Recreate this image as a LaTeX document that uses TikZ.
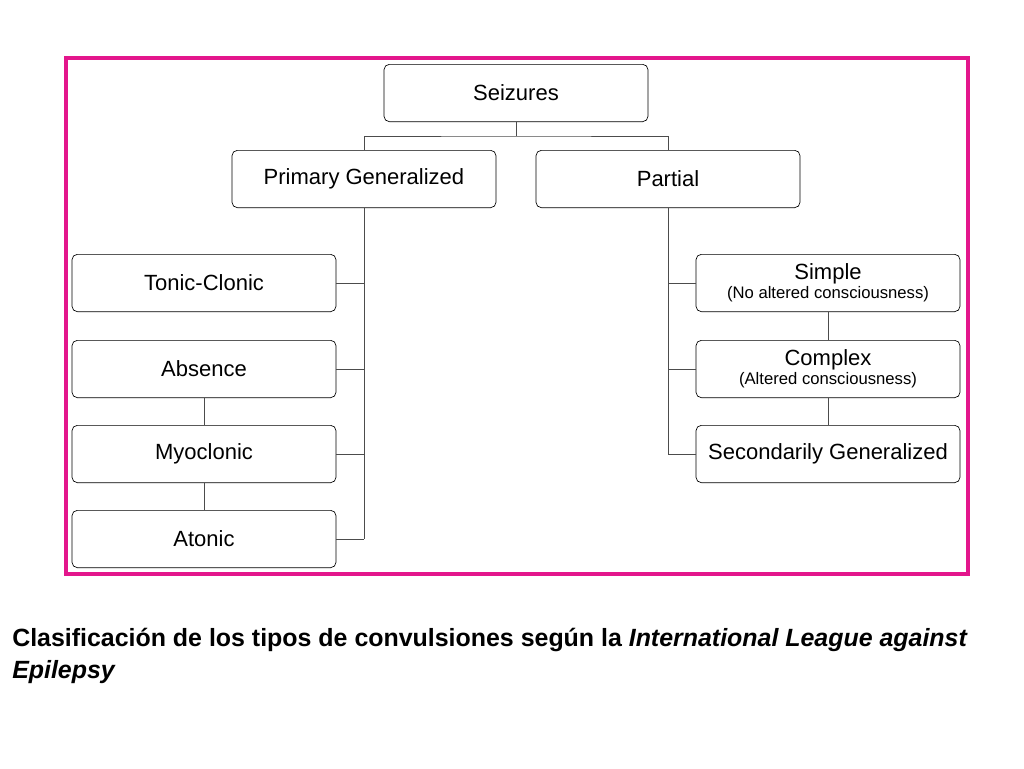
\documentclass[tikz,border=0pt]{standalone}
\usepackage{fontspec}
\setmainfont{Liberation Sans}
\definecolor{framepink}{HTML}{E3168C}
\begin{document}
\begin{tikzpicture}[
		x=0.75pt, y=-0.75pt,
			box/.style = {
				draw,
				rounded corners = 4pt,
				minimum width = 198pt,
				minimum height = 43pt,
				align = center,
				font = \fontsize{16.5}{18}\selectfont,
				line width = 0.5pt
			},
			link/.style = {
				draw = black!70,
				line width = 0.6pt
			}
		]
		\useasboundingbox (0,0) rectangle (1024,768);
		\draw[framepink, line width=2.6pt] (66,58) rectangle (968,574);
		\node[box]    (SZ) at (516,93)  {Seizures};
		\node[box]    (PG) at (364,179) {Primary Generalized};
		\node[box]    (PA) at (668,179) {Partial};
		\node[box]    (TC) at (204,283) {Tonic-Clonic};
		\node[box]    (AB) at (204,369) {Absence};
		\node[box]    (MY) at (204,454) {Myoclonic};
		\node[box]    (AT) at (204,539) {Atonic};
		\node[box]    (SI) at (828,283) {Simple\\[-4pt]{\fontsize{12.5}{14}\selectfont(No altered consciousness)}};
		\node[box]    (CO) at (828,369) {Complex\\[-4pt]{\fontsize{12.5}{14}\selectfont(Altered consciousness)}};
		\node[box]    (SG) at (828,454) {Secondarily Generalized};
		\coordinate (split) at (516,136);
		\coordinate (gend) at (364,539);
		\coordinate (pend) at (668,454);
		\draw[link] (SZ.south) -- (split);
		\draw[link] (PG.north) |- (split) -| (PA.north);
		\draw[link] (PG.south) -- (gend);
		\draw[link] (PA.south) -- (pend);
		\foreach \n in {TC,AB,MY,AT}
			\draw[link] (\n.east) -- (\n.east -| gend);
		\foreach \n in {SI,CO,SG}
			\draw[link] (\n.west) -- (\n.west -| pend);
		\draw[link] (AB.south) -- (MY.north);
		\draw[link] (MY.south) -- (AT.north);
		\draw[link] (SI.south) -- (CO.north);
		\draw[link] (CO.south) -- (SG.north);
		\node[anchor=north west, align=left, inner sep=0pt, font=\bfseries\fontsize{18.7}{24}\selectfont] (cap) at (12,628)
			{Clasificación de los tipos de convulsiones según la \textit{International League against}\\\textit{Epilepsy}};
	\end{tikzpicture}
\end{document}
